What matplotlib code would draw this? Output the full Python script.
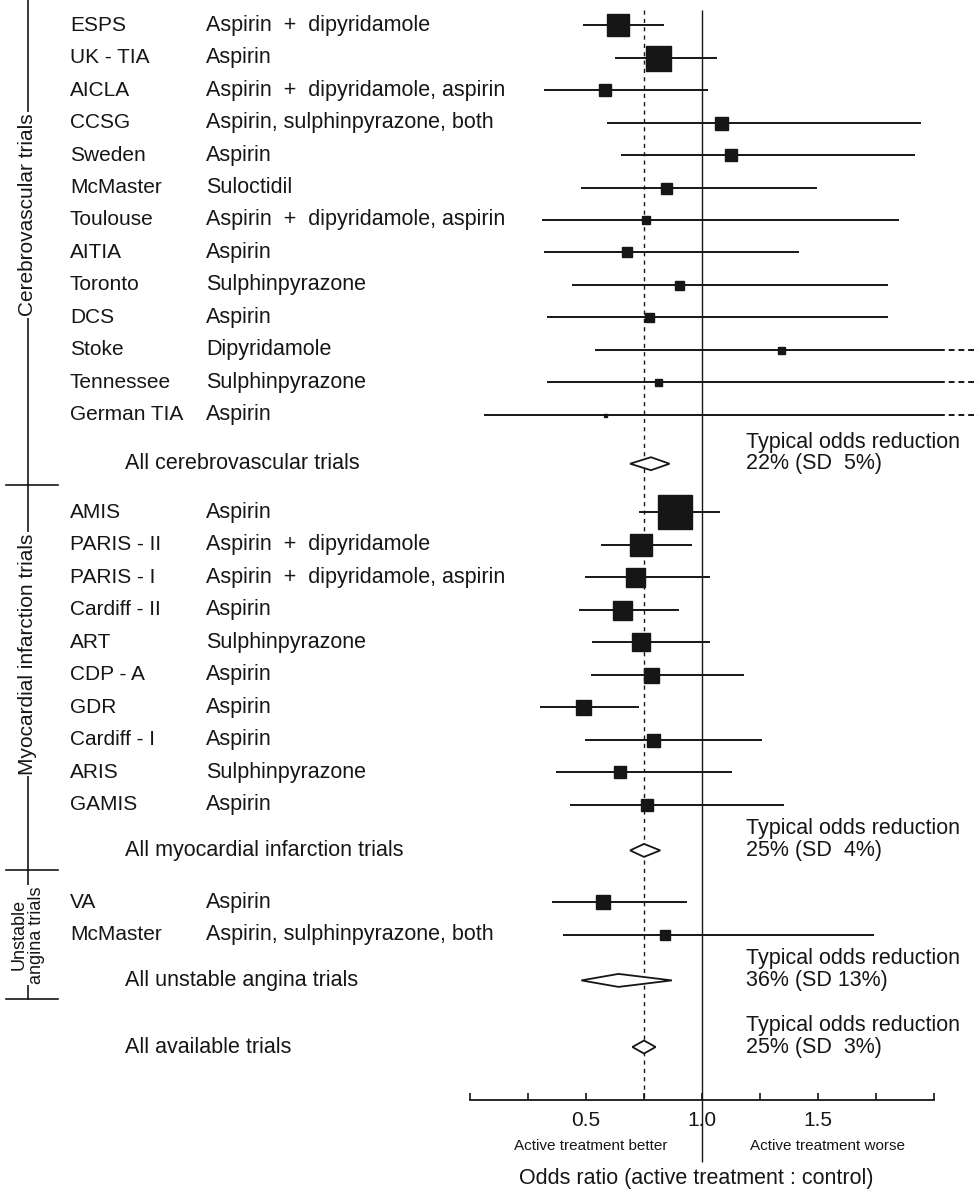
import numpy as np
import matplotlib
matplotlib.use('Agg')
import matplotlib.pyplot as plt
import matplotlib.transforms as mtransforms
from matplotlib.patches import Polygon

plt.rcParams['font.family'] = ['Liberation Sans', 'DejaVu Sans']

# trials (odds ratio, 95% CI, box size ~ weight)
names = ['ESPS', 'UK - TIA', 'AICLA', 'CCSG', 'Sweden', 'McMaster', 'Toulouse',
         'AITIA', 'Toronto', 'DCS', 'Stoke', 'Tennessee', 'German TIA',
         'AMIS', 'PARIS - II', 'PARIS - I', 'Cardiff - II', 'ART', 'CDP - A',
         'GDR', 'Cardiff - I', 'ARIS', 'GAMIS',
         'VA', 'McMaster']
treatments = ['Aspirin  +  dipyridamole', 'Aspirin', 'Aspirin  +  dipyridamole, aspirin',
              'Aspirin, sulphinpyrazone, both', 'Aspirin', 'Suloctidil',
              'Aspirin  +  dipyridamole, aspirin', 'Aspirin', 'Sulphinpyrazone', 'Aspirin',
              'Dipyridamole', 'Sulphinpyrazone', 'Aspirin',
              'Aspirin', 'Aspirin  +  dipyridamole', 'Aspirin  +  dipyridamole, aspirin',
              'Aspirin', 'Sulphinpyrazone', 'Aspirin', 'Aspirin', 'Aspirin',
              'Sulphinpyrazone', 'Aspirin',
              'Aspirin', 'Aspirin, sulphinpyrazone, both']
est = [0.64, 0.81, 0.58, 1.08, 1.125, 0.845, 0.76, 0.675, 0.90, 0.77, 1.34, 0.81, 0.58,
       0.885, 0.735, 0.713, 0.657, 0.735, 0.78, 0.487, 0.79, 0.645, 0.763,
       0.575, 0.84]
lo = [0.485, 0.626, 0.32, 0.59, 0.65, 0.48, 0.31, 0.32, 0.44, 0.33, 0.54, 0.33, 0.06,
      0.73, 0.565, 0.496, 0.47, 0.526, 0.52, 0.30, 0.496, 0.37, 0.43,
      0.355, 0.40]
hi = [0.837, 1.066, 1.026, 1.945, 1.92, 1.495, 1.85, 1.417, 1.80, 1.80, 2.6, 2.6, 2.6,
      1.078, 0.957, 1.035, 0.90, 1.035, 1.18, 0.73, 1.26, 1.13, 1.355,
      0.934, 1.74]
weight = [22, 25, 12, 13, 12, 11, 8, 10, 9, 9, 7, 7, 3,
          34, 23, 19, 19, 18, 15, 15, 13, 12, 12,
          14, 10]

summary_labels = ['All cerebrovascular trials', 'All myocardial infarction trials',
                  'All unstable angina trials', 'All available trials']
summary_est = [0.78, 0.75, 0.64, 0.75]
summary_lo = [0.69, 0.69, 0.48, 0.70]
summary_hi = [0.86, 0.82, 0.87, 0.80]
reduction = ['22% (SD  5%)', '25% (SD  4%)', '36% (SD 13%)', '25% (SD  3%)']

trial_rows = list(range(13)) + [15 + i for i in range(10)] + [27, 28]
summary_rows = [13.5, 25.4, 29.4, 31.45]
axis_row = 33.08

ink = '#161616'
fs = 15.5
fig = plt.figure(figsize=(9.79, 11.9), dpi=100)
ax = fig.add_axes([0, 0, 1, 1])
ax.set_xlim(-470 / 232, 509 / 232)
ax.set_ylim(35.85, -0.77)
blend = mtransforms.blended_transform_factory(ax.transAxes, ax.transData)

# reference lines
ax.vlines(1.0, -0.46, 35.0, color=ink, lw=1.0)
ax.vlines(0.75, -0.46, axis_row, color=ink, lw=1.0, linestyles=(0, (3, 3)))

# individual trials
clip = 2.02
for i, r in enumerate(trial_rows):
    right = min(hi[i], clip)
    ax.hlines(r, lo[i], right, color=ink, lw=1.4)
    if hi[i] > clip:
        ax.hlines(r, clip, 2.2, color=ink, lw=1.4, linestyles=(0, (3, 2)))
    ax.plot(est[i], r, 's', color=ink, ms=weight[i] * 0.72, mec=ink)
    ax.text(70 / 979, r, names[i], transform=blend, va='center', ha='left',
            fontsize=fs - 0.5, color=ink)
    ax.text(206 / 979, r, treatments[i], transform=blend, va='center', ha='left',
            fontsize=fs, color=ink)

# pooled results
for j, r in enumerate(summary_rows):
    h = 0.2
    diamond = Polygon([[summary_lo[j], r], [summary_est[j], r - h],
                       [summary_hi[j], r], [summary_est[j], r + h]],
                      closed=True, fc='white', ec=ink, lw=1.3, zorder=3)
    ax.add_patch(diamond)
    ax.text(125 / 979, r, summary_labels[j], transform=blend, va='center',
            ha='left', fontsize=fs, color=ink)
    ax.text(1.19, r - 0.66, 'Typical odds reduction', va='center', ha='left',
            fontsize=fs, color=ink)
    ax.text(1.19, r, reduction[j], va='center', ha='left', fontsize=fs, color=ink)

# group brackets
brackets = [(-0.77, 14.15, 5.85, 'Cerebrovascular trials', 15),
            (14.15, 26.0, 19.35, 'Myocardial infarction trials', 15),
            (26.0, 29.97, 28.0, 'Unstable\nangina trials', 13)]
for top, bottom, mid, label, lfs in brackets:
    ax.plot([28 / 979, 28 / 979], [top, bottom], transform=blend, color=ink, lw=1.2)
    ax.plot([6 / 979, 58 / 979], [bottom, bottom], transform=blend, color=ink, lw=1.2)
    ax.text(28 / 979, mid, label, transform=blend, rotation=90, va='center',
            ha='center', fontsize=lfs, color=ink, linespacing=1.0,
            bbox=dict(fc='white', ec='none', pad=1))

# odds ratio axis
for s in ['top', 'right', 'left']:
    ax.spines[s].set_visible(False)
ax.spines['bottom'].set_position(('data', axis_row))
ax.spines['bottom'].set_bounds(0, 2.0)
ax.spines['bottom'].set_linewidth(1.3)
ax.spines['bottom'].set_color(ink)
ticks = np.arange(0, 2.01, 0.25)
ax.set_xticks(ticks)
ax.set_xticklabels(['0.5' if abs(t - 0.5) < 1e-9 else '1.0' if abs(t - 1) < 1e-9
                    else '1.5' if abs(t - 1.5) < 1e-9 else '' for t in ticks])
ax.tick_params(axis='x', direction='in', length=5, width=1.2, color=ink,
               labelsize=15, labelcolor=ink, pad=8)
ax.set_yticks([])

ax.text(0.52, 34.49, 'Active treatment better', ha='center', va='center',
        fontsize=11, color=ink)
ax.text(1.54, 34.49, 'Active treatment worse', ha='center', va='center',
        fontsize=11, color=ink)
ax.text(0.975, 35.5, 'Odds ratio (active treatment : control)', ha='center',
        va='center', fontsize=fs, color=ink)

fig.savefig('out.png', dpi=100, facecolor='white')
